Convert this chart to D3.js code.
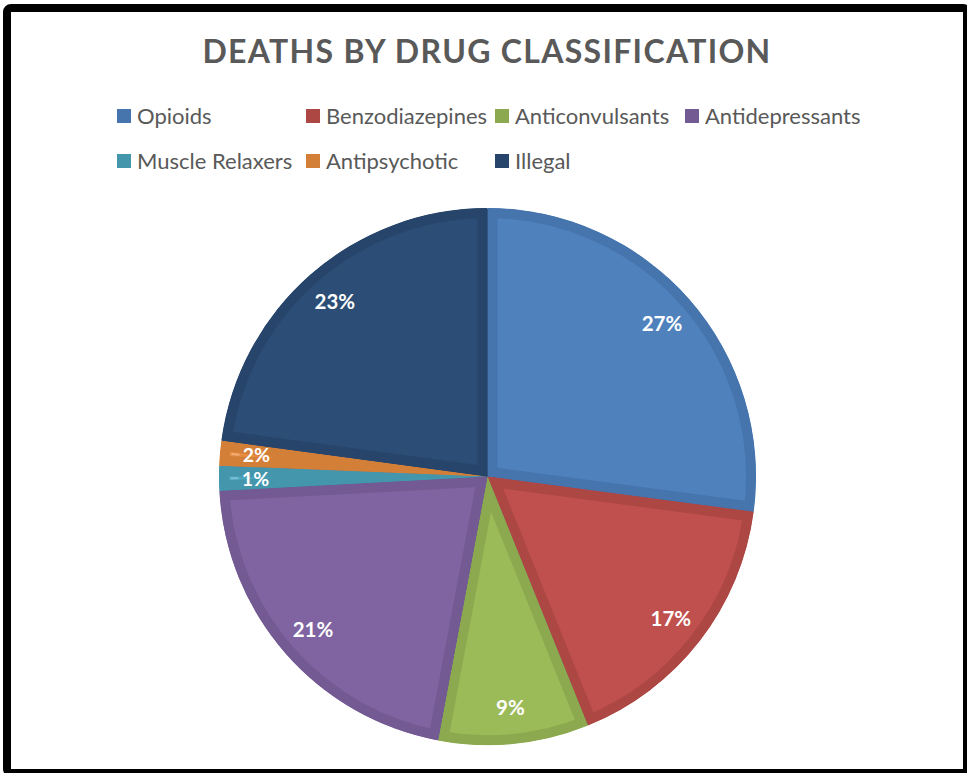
<!DOCTYPE html>
<html><head><meta charset="utf-8">
<script src="https://cdn.jsdelivr.net/npm/d3@7"></script>
<style>body{margin:0;background:#fff;overflow:hidden}</style>
</head><body>
<svg id="chart" width="967" height="773"></svg>
<script>
const chartTitle = "DEATHS BY DRUG CLASSIFICATION";
const categories = ["Opioids","Benzodiazepines","Anticonvulsants","Antidepressants","Muscle Relaxers","Antipsychotic","Illegal"];
const values = [27.1, 16.8, 9.05, 21.2, 1.49, 1.5, 22.86];
const fillColors = ["#4F81BD","#C0504D","#9BBB59","#8064A2","#4BA5BF","#E88C3F","#2C4D75"];
const edgeColors = ["#4675AE","#AD4744","#8CA94F","#735A93","#4496AD","#D47F38","#27456A"];

const svg = d3.select("#chart");
const cx = 487.5, cy = 476.5, R = 268.5, band = 10, labelR = 232;

svg.append("rect").attr("x",7).attr("y",8).attr("width",960).attr("height",765)
  .attr("rx",4).attr("fill","#fff").attr("stroke","#000").attr("stroke-width",8);

svg.append("text").attr("x",487).attr("y",63).attr("text-anchor","middle")
  .attr("font-family","Lato, 'Open Sans', sans-serif").attr("font-weight",700)
  .attr("font-size",32).attr("letter-spacing",1.3).attr("fill","#595959").text(chartTitle);

// legend
const legendPos = [[117,109],[306,109],[495,109],[685,109],[117,154],[306,154],[495,154]];
const lg = svg.append("g");
categories.forEach((c,i)=>{
  const [x,y] = legendPos[i];
  lg.append("rect").attr("x",x).attr("y",y).attr("width",14).attr("height",14).attr("fill",edgeColors[i]);
  lg.append("text").attr("x",x+20).attr("y",y+15).attr("font-family","Lato, 'Open Sans', sans-serif")
    .attr("font-size",22).attr("fill","#595959").text(c);
});

const pie = d3.pie().sort(null).value(d=>d);
const arcs = pie(values);
const arc = d3.arc().innerRadius(0).outerRadius(R);
const defs = svg.append("defs");
const g = svg.append("g").attr("transform",`translate(${cx},${cy})`);

g.append("circle").attr("r",R-0.8).attr("fill","#33557f");

arcs.forEach((a,i)=>{
  const p = arc(a);
  defs.append("clipPath").attr("id","clip"+i).append("path").attr("d",p);
  g.append("path").attr("d",p).attr("fill",fillColors[i])
    .attr("stroke",edgeColors[i]).attr("stroke-width",band*2)
    .attr("clip-path",`url(#clip${i})`);
});

const lblArc = d3.arc().innerRadius(labelR).outerRadius(labelR);
arcs.forEach((a,i)=>{
  let [x,y] = lblArc.centroid(a);
  if (values[i] < 3) {
    const m = (a.startAngle+a.endAngle)/2;
    g.append("line").attr("x1",Math.sin(m)*249).attr("y1",-Math.cos(m)*249)
      .attr("x2",Math.sin(m)*257).attr("y2",-Math.cos(m)*257)
      .attr("stroke","#fff").attr("stroke-opacity",0.3).attr("stroke-width",2);
    y += (i === 4 ? 1 : -1.5);
  }
  g.append("text").attr("x",x).attr("y",y).attr("dy","0.36em").attr("text-anchor","middle")
    .attr("font-family","Lato, 'Open Sans', sans-serif").attr("font-weight",700)
    .attr("font-size",values[i] < 3 ? 19.5 : 20.5).attr("fill","#fff").text(Math.round(values[i])+"%");
});
</script>
</body></html>
